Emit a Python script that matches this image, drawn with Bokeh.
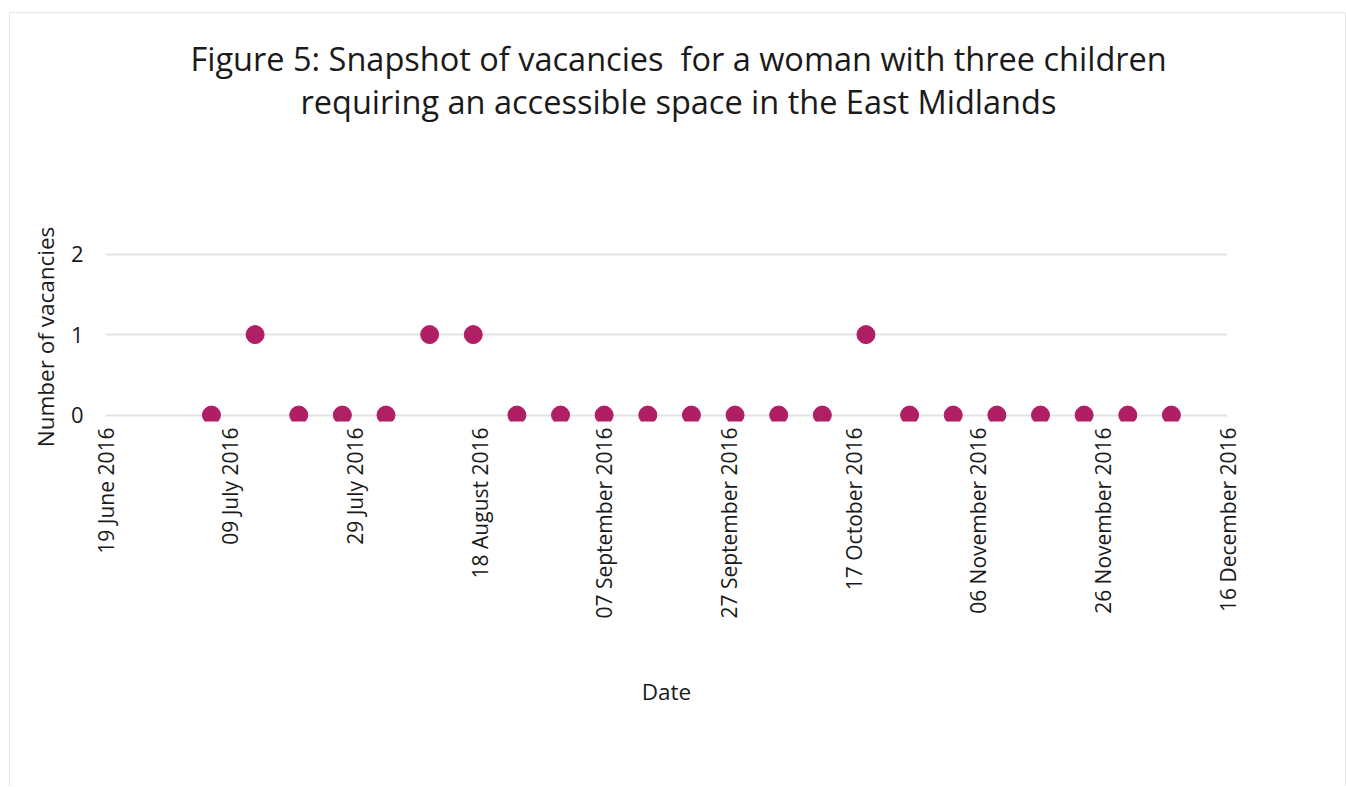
import datetime as dt
from bokeh.plotting import figure
from bokeh.models import FixedTicker, DatetimeTickFormatter, Range1d, ColumnDataSource, Title
from bokeh.embed import file_html
from bokeh.resources import INLINE

# ---- data ----
dates = ["2016-07-06", "2016-07-13", "2016-07-20", "2016-07-27", "2016-08-03",
         "2016-08-10", "2016-08-17", "2016-08-24", "2016-08-31", "2016-09-07",
         "2016-09-14", "2016-09-21", "2016-09-28", "2016-10-05", "2016-10-12",
         "2016-10-19", "2016-10-26", "2016-11-02", "2016-11-09", "2016-11-16",
         "2016-11-23", "2016-11-30", "2016-12-07"]
vacancies = [0, 1, 0, 0, 0, 1, 1, 0, 0, 0, 0, 0, 0, 0, 0, 1, 0, 0, 0, 0, 0, 0, 0]
x_tick_dates = ["2016-06-19", "2016-07-09", "2016-07-29", "2016-08-18", "2016-09-07",
                "2016-09-27", "2016-10-17", "2016-11-06", "2016-11-26", "2016-12-16"]
y_ticks = [0, 1, 2]
title_line1 = "Figure 5: Snapshot of vacancies\u00a0 for a woman with three children"
title_line2 = "requiring an accessible space in the East Midlands"
x_label = "Date"
y_label = "Number of vacancies"

FONT = "Open Sans"
TEXT = "#1a1a1a"
DOT = "#B01E64"
GRID = "#e3e3e3"


def to_dt(s):
    return dt.datetime.strptime(s, "%Y-%m-%d")


def to_ms(s):
    return (to_dt(s) - dt.datetime(1970, 1, 1)).total_seconds() * 1000.0


src = ColumnDataSource(dict(x=[to_dt(d) for d in dates], y=vacancies))

p = figure(width=1337, height=774, output_backend="svg", toolbar_location=None,
           x_axis_type="datetime",
           x_range=Range1d(to_ms(x_tick_dates[0]), to_ms(x_tick_dates[-1])),
           y_range=Range1d(-0.08, 2.02),
           min_border_left=95, min_border_right=120,
           min_border_top=239, min_border_bottom=366)
p.margin = (12, 0, 0, 9)
p.styles = {"border-top": "1px solid #e6e6e6", "border-left": "1px solid #e6e6e6",
            "border-right": "1px solid #e6e6e6"}

p.scatter("x", "y", source=src, size=18, color=DOT, line_color=DOT)

# title lines: p.title (line 1) outermost; first added "above" item sits next to the frame
p.title.text = title_line1
p.title.align = "left"
p.title.offset = 85
p.title.text_font = FONT
p.title.text_font_size = "32.5px"
p.title.text_font_style = "normal"
p.title.text_color = TEXT
p.title.standoff = 0

spacer = Title(text=" ", text_font_size="1px", standoff=130)
p.add_layout(spacer, "above")

t2 = Title(text=title_line2, align="left", offset=195, text_font=FONT,
           text_font_size="32.5px", text_font_style="normal", text_color=TEXT,
           standoff=-8)
p.add_layout(t2, "above")

p.outline_line_color = None
p.background_fill_color = "white"
p.border_fill_color = "white"

# x axis
xa = p.xaxis[0]
xa.ticker = FixedTicker(ticks=[to_ms(d) for d in x_tick_dates])
fmt = "%d %B %Y"
xa.formatter = DatetimeTickFormatter(days=fmt, months=fmt, years=fmt, hours=fmt,
                                     minutes=fmt, seconds=fmt, milliseconds=fmt,
                                     microseconds=fmt, minsec=fmt, hourmin=fmt)
xa.major_label_orientation = 3.14159265 / 2
xa.axis_line_color = None
xa.major_tick_line_color = None
xa.minor_tick_line_color = None
xa.major_label_standoff = 0
xa.major_label_text_font = FONT
xa.major_label_text_font_size = "21px"
xa.major_label_text_color = TEXT
xa.axis_label = x_label
xa.axis_label_text_font = FONT
xa.axis_label_text_font_size = "22.5px"
xa.axis_label_text_font_style = "normal"
xa.axis_label_text_color = TEXT
xa.axis_label_standoff = 54

# y axis
ya = p.yaxis[0]
ya.ticker = FixedTicker(ticks=y_ticks)
ya.axis_line_color = None
ya.major_tick_line_color = None
ya.minor_tick_line_color = None
ya.major_label_standoff = 16
ya.major_label_text_font = FONT
ya.major_label_text_font_size = "22px"
ya.major_label_text_color = TEXT
ya.axis_label = y_label
ya.axis_label_text_font = FONT
ya.axis_label_text_font_size = "22.5px"
ya.axis_label_text_font_style = "normal"
ya.axis_label_text_color = TEXT
ya.axis_label_standoff = 7

p.xgrid.grid_line_color = None
p.ygrid.grid_line_color = GRID
p.ygrid.grid_line_width = 2

open("out.html", "w").write(file_html(p, INLINE))
